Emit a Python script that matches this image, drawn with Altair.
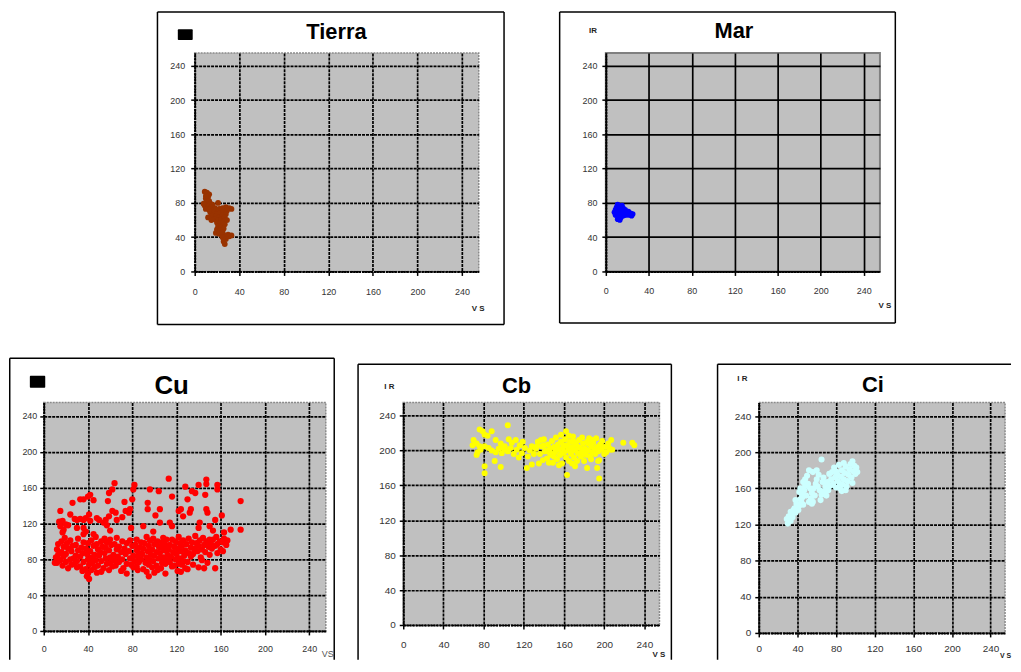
import altair as alt
import pandas as pd

FONT = "Liberation Sans"
TICKS = [0, 40, 80, 120, 160, 200, 240]
DOMAIN = [0, 255]

# ---- data (VS, IR) ----
tierra_pts = [(9,93),(11,92),(13,90),(12,87),(10,85),(11,81),(13,82),(14,79),(16,78),(9,77),
              (12,76),(15,75),(18,74),(10,73),(13,72),(16,71),(19,72),(22,73),(25,74),(28,75),
              (31,74),(33,73),(14,69),(17,68),(20,67),(23,68),(26,70),(29,71),(16,65),(19,64),
              (22,63),(25,66),(28,67),(18,61),(21,60),(24,61),(27,63),(20,57),(23,56),(26,58),
              (29,60),(21,53),(24,52),(27,55),(20,49),(23,48),(26,50),(19,45),(22,44),(25,46),
              (21,80),(27,42),(30,43),(33,42),(25,40),(28,38),(31,41),(26,35),(27,32),(12,63),
              (15,60),(8,79),(10,88)]

mar_pts = [(9,72),(10,75),(11,78),(12,76),(13,73),(10,69),(12,70),(14,71),(16,74),(9,66),
           (11,65),(13,67),(15,68),(17,70),(12,62),(14,63),(16,65),(18,72),(19,69),(20,67),
           (21,70),(22,66),(23,68),(24,65),(25,67),(13,60),(11,61),(8,69),(15,77),(17,66),
           (19,66),(21,68)]

cu_upper = [(113,170),(147,169),(147,164),(157,163),(157,158),(140,163),(128,161),(64,165),(82,163),
            (81,158),(59,154),(62,158),(96,158),(104,156),(116,150),(134,156),(137,154),(146,152),
            (130,147),(178,145),(42,152),(40,150),(36,147),(45,146),(26,143),(58,145),(73,144),
            (80,147),(94,143),(94,136),(78,136),(74,134),(77,132),(62,134),(65,132),(66,124),
            (59,128),(56,124),(54,121),(71,127),(48,126),(50,124),(41,130),(42,123),(30,124),
            (33,125),(36,124),(38,126),(24,130),(15,134),(17,123),(20,119),(18,113),(17,110),
            (36,115),(38,111),(36,108),(30,115),(79,115),(101,129),(105,136),(122,134),(124,136),
            (126,128),(133,136),(132,132),(147,136),(148,132),(155,124),(161,129),(141,121),
            (140,115),(150,117),(169,113),(178,113),(114,121),(116,117),(105,121),(90,117),(99,111),
            (14,122),(15,117),(22,118),(28,125),(33,147),(57,118),(45,108),(60,112),(153,112),(163,110)]

cu_band = [(19,104),(31,103),(47,105),(55,103),(66,104),(84,102),(93,105),(99,103),(108,104),(116,102),
           (122,105),(131,103),(137,106),(144,104),(150,102),(156,105),(163,103),
           (16,100),(24,101),(36,99),(43,101),(52,100),(60,102),(71,100),(78,101),(88,99),(96,101),
           (103,100),(111,102),(119,100),(126,101),(134,99),(141,101),(147,100),(153,102),(159,100),(166,101),
           (13,97),(21,98),(29,96),(40,98),(48,97),(57,99),(64,97),(75,98),(83,96),(91,98),(100,97),
           (107,99),(114,96),(123,98),(129,97),(138,98),(145,96),(151,98),(157,97),(162,99),
           (18,94),(26,95),(34,93),(45,95),(53,94),(61,96),(68,94),(80,95),(87,93),(95,95),(104,94),
           (110,96),(118,94),(125,95),(133,93),(140,95),(149,94),(155,95),(165,96),
           (12,91),(22,92),(31,90),(38,92),(49,91),(56,93),(66,91),(73,92),(84,90),(90,92),(98,91),
           (106,93),(113,91),(121,92),(128,90),(136,92),(143,91),(152,92),(160,91),
           (16,88),(25,89),(35,87),(42,89),(51,88),(59,90),(70,88),(77,89),(86,87),(94,89),(102,88),
           (109,90),(117,88),(124,89),(131,87),(139,89),(146,88),(157,87),
           (13,85),(20,86),(29,84),(39,86),(46,85),(55,87),(63,85),(74,86),(81,84),(89,86),(97,85),
           (105,87),(112,85),(120,86),(127,84),(135,86),(150,85),(162,89),
           (11,82),(18,83),(27,81),(33,83),(43,82),(50,84),(60,82),(67,83),(78,81),(85,83),(93,82),
           (100,84),(108,82),(115,83),(123,81),(133,83),(142,82),
           (15,79),(24,80),(30,78),(40,80),(47,79),(56,81),(64,79),(71,80),(82,78),(88,80),(96,79),
           (104,81),(111,79),(119,80),(126,78),(143,79),
           (12,76),(20,77),(28,75),(36,77),(44,76),(52,78),(60,76),(68,77),(75,75),(86,77),(92,76),
           (99,78),(107,76),(114,77),(122,75),(130,77),(148,76),
           (17,73),(25,74),(33,72),(41,74),(49,73),(57,75),(65,73),(79,74),(84,72),(95,74),(102,73),
           (110,75),(118,73),(125,74),(135,74),
           (22,70),(30,71),(38,69),(46,71),(54,70),(62,72),(72,70),(81,71),(90,69),(98,71),(106,70),
           (116,72),(128,70),(140,71),(145,70),(155,70),
           (35,67),(43,68),(52,66),(59,68),(70,67),(85,68),(93,66),(103,68),(121,67),(130,69),
           (40,64),(48,65),(75,64),(100,65),(110,64),(124,66),
           (41,58),(39,61),(95,61),(10,76),(12,80)]

cb_pts = [(76,224),(79,222),(81,218),(84,217),(88,222),(104,229),(70,212),(73,208),(69,206),(76,205),
          (81,205),(74,198),(73,195),(81,182),(81,174),(91,188),(97,181),(92,212),(97,208),(99,203),
          (102,201),(105,213),(112,212),(77,201),(85,203),
          (88,200),(92,198),(95,202),(98,197),(101,205),(104,199),(107,203),(110,196),(113,201),
          (116,206),(118,197),(121,203),(124,193),(126,200),(128,205),(130,196),(108,209),(119,210),
          (115,192),(123,180),(128,184),
          (132,202),(134,210),(136,196),(138,205),(140,213),(141,199),(143,191),(144,207),(146,202),
          (147,195),(148,211),(149,186),(150,204),(151,198),(152,215),(153,190),(154,207),(155,201),
          (156,195),(157,210),(158,185),(159,203),(160,198),(161,213),(162,222),(162,192),(163,206),
          (164,200),(165,188),(166,210),(167,196),(168,204),(169,216),(170,192),(171,200),(172,207),
          (173,188),(174,197),(175,212),(176,203),(177,193),(178,199),(179,208),(180,188),(181,202),
          (182,195),(183,210),(184,200),(185,214),(186,193),(187,205),(188,198),(189,209),(190,202),
          (191,196),(192,214),(193,204),(194,199),(195,189),(196,207),(197,201),(198,211),(200,204),
          (202,198),(204,208),(206,201),(207,212),(145,186),(139,189),(135,185),(157,218),(165,217),
          (178,215),(171,182),(163,172),(183,180),(193,180),(195,168),(194,188),(184,208),(176,195),
          (167,201),(158,197),(150,193),(142,200),(133,205),(137,212),(155,183),(170,210),(188,212),
          (200,196),(219,209),(228,209),(230,206),(205,203),(208,201),(168,185),(160,206),(152,202),
          (146,197),(140,206),(174,204),(181,198),(187,190)]

ci_pts = [(30,121),(29,126),(31,129),(33,124),(34,131),(35,128),(33,134),(36,136),(38,133),(37,138),
          (40,139),(39,143),(42,141),(41,136),(44,145),(43,148),(46,142),(45,150),(38,147),
          (42,156),(43,160),(45,153),(47,158),(48,163),(46,167),(48,170),(50,174),(52,180),(51,165),
          (53,160),(55,155),(54,149),(56,145),(58,152),(57,160),(59,165),(60,170),(62,175),(61,162),
          (63,158),(65,153),(64,147),(66,167),(67,172),(68,157),(69,162),(70,152),(71,167),(72,158),
          (73,176),(74,163),(65,192),(56,178),(60,180),(49,152),(52,145),(55,143),
          (75,170),(76,178),(77,165),(78,183),(79,172),(80,161),(81,176),(82,168),(83,186),(84,160),
          (85,173),(86,180),(87,164),(88,170),(89,177),(90,184),(91,162),(92,168),(93,175),(94,181),
          (95,187),(96,172),(97,166),(98,179),(99,185),(100,176),(101,183),(102,178),(97,190),(88,188),
          (84,165),(80,179),(90,158),(86,157)]

ONE = pd.DataFrame({"k": [0]})


def seg(x1, y1, x2, y2, width=1.5):
    enc = {"x": alt.value(x1), "y": alt.value(y1)}
    if x1 != x2:
        enc["x2"] = alt.value(x2)
    if y1 != y2:
        enc["y2"] = alt.value(y2)
    return alt.Chart(ONE).mark_rule(color="black", strokeWidth=width).encode(**enc)


def box(x1, y1, x2, y2, **kw):
    return alt.Chart(ONE).mark_rect(**kw).encode(
        x=alt.value(x1), x2=alt.value(x2), y=alt.value(y1), y2=alt.value(y2))


def panel(pts, color, size, ox, oy, w, h, cell, frame, title, ir, vs,
          xpad, ypad, lsize, dashed=True, ir_text=None):
    df = pd.DataFrame(pts, columns=["VS", "IR"])
    rx = lambda v: v - ox
    ry = lambda v: v - oy
    layers = []
    cx1, cy1, cx2, cy2 = cell
    layers.append(box(rx(cx1), ry(cy1), rx(cx2), ry(cy2), opacity=0))
    for (a, b, c, d) in frame:
        layers.append(seg(rx(a), ry(b), rx(c), ry(d)))

    grid_kw = dict(gridColor="black", gridWidth=1.7)
    if dashed:
        grid_kw["gridDash"] = [3, 1]
    common = dict(values=TICKS, labelFont=FONT, labelFontSize=lsize, labelColor="#333333",
                  tickSize=4, tickColor="black", tickWidth=1.5, domainColor="black",
                  domainWidth=2, domainDash=[2, 1], grid=True, labelOverlap=False,
                  labelFlush=False, **grid_kw)
    vtext, vx, vy, vbold, vcolor, vsize = vs
    xaxis = alt.Axis(title=vtext, titleX=vx - ox, titleY=vy - (oy + h), titleAlign="center",
                     titleBaseline="middle", titleFont=FONT, titleFontSize=vsize,
                     titleFontWeight="bold" if vbold else "normal", titleColor=vcolor,
                     labelPadding=xpad, **common)
    if ir_text is not None:
        itext, ix, iy = ir_text
        yaxis = alt.Axis(title=itext, titleAngle=0, titleX=ix - ox, titleY=iy - oy,
                         titleAlign="center", titleBaseline="middle", titleFont=FONT,
                         titleFontSize=8, titleFontWeight="bold", titleColor="#222222",
                         labelPadding=ypad, **common)
    else:
        yaxis = alt.Axis(title=None, labelPadding=ypad, **common)

    pts_layer = alt.Chart(df).mark_point(filled=True, shape="circle", size=size, opacity=1,
                                         color=color).encode(
        x=alt.X("VS:Q", scale=alt.Scale(domain=DOMAIN, nice=False, zero=False), axis=xaxis),
        y=alt.Y("IR:Q", scale=alt.Scale(domain=DOMAIN, nice=False, zero=False), axis=yaxis),
    )
    layers.append(pts_layer)

    ttext, tx, ty, tsize = title
    layers.append(alt.Chart(ONE).mark_text(text=ttext, font=FONT, fontSize=tsize,
                                           fontWeight="bold", align="center",
                                           baseline="alphabetic", color="black").encode(
        x=alt.value(rx(tx)), y=alt.value(ry(ty))))
    if ir is not None:
        bx1, by1, bx2, by2 = ir
        layers.append(box(rx(bx1), ry(by1), rx(bx2), ry(by2), color="black", cornerRadius=1))

    if dashed:
        view = alt.ViewBackground(fill="#c0c0c0", stroke="#8a8a8a", strokeWidth=1.5,
                                  strokeDash=[2, 1])
    else:
        view = alt.ViewBackground(fill="#c0c0c0", stroke="#808080", strokeWidth=2)
    return alt.layer(*layers).properties(width=w, height=h, view=view)


BOT = 659   # lowest page row used by the bottom panels
RIGHT = 1013  # rightmost page column used

spacer = box(-35, -42, 57, 290, opacity=0).properties(
    width=1, height=1, view=alt.ViewBackground(fill="transparent", stroke="transparent"))

tierra = panel(tierra_pts, "#993300", 34, 193, 50, 286, 220,
               cell=(100, 8, 530, 340),
               frame=[(155.5, 8.75, 504.5, 8.75), (155.5, 323.5, 504.5, 323.5),
                      (155.5, 8.75, 155.5, 323.5), (504.5, 8.75, 504.5, 323.5)],
               title=("Tierra", 335.7, 36, 22), ir=(176, 26, 191, 37),
               vs=("V S", 478, 307, True, "#222222", 8), xpad=12, ypad=6, lsize=9)

mar = panel(mar_pts, "#0000ff", 32, 605, 50, 276, 220,
            cell=(530, 8, 905, 340),
            frame=[(558.5, 8.75, 896.5, 8.75), (558.5, 322, 896.5, 322),
                   (558.5, 8.75, 558.5, 322), (896.5, 8.75, 896.5, 322)],
            title=("Mar", 734, 35.3, 22), ir=None,
            vs=("V S", 885.5, 304.5, True, "#222222", 8), xpad=11, ypad=5, lsize=9,
            dashed=False, ir_text=("IR", 591.5, 27.5))

cu = panel(cu_upper + cu_band, "#ff0000", 40, 43, 400, 284, 230,
           cell=(8, 340, 346, BOT),
           frame=[(8.75, 355.5, 335.5, 355.5), (8.75, 355.5, 8.75, BOT),
                  (335.5, 355.5, 335.5, BOT)],
           title=("Cu", 171.8, 391.7, 26), ir=(29, 373, 44.5, 385),
           vs=("VS", 328.5, 653, False, "#555555", 9), xpad=10, ypad=3, lsize=9)

cb = panel(cb_pts, "#ffff00", 36, 403, 400, 258, 224,
           cell=(346, 340, 695, BOT),
           frame=[(357.5, 361.5, 673, 361.5), (357.5, 361.5, 357.5, BOT),
                  (673, 361.5, 673, BOT)],
           title=("Cb", 517, 390.3, 22), ir=None,
           vs=("V S", 660, 654, True, "#222222", 8), xpad=11, ypad=4, lsize=10,
           ir_text=("I R", 388.5, 383.5))

ci = panel(ci_pts, "#ccffff", 38, 759, 400, 248, 232,
           cell=(695, 340, RIGHT, BOT),
           frame=[(717.5, 361.5, RIGHT, 361.5), (717.5, 361.5, 717.5, BOT)],
           title=("Ci", 874, 389.3, 22), ir=None,
           vs=("V S", 1007, 655, True, "#222222", 7), xpad=7, ypad=4, lsize=10,
           ir_text=("I R", 742, 376))

top = alt.hconcat(spacer, tierra, mar, spacing=0)
bottom = alt.hconcat(cu, cb, ci, spacing=0)
chart = alt.vconcat(top, bottom, spacing=0).properties(padding=0).configure(font=FONT)

chart.save("out.html", embed_options={"renderer": "svg", "actions": False})
